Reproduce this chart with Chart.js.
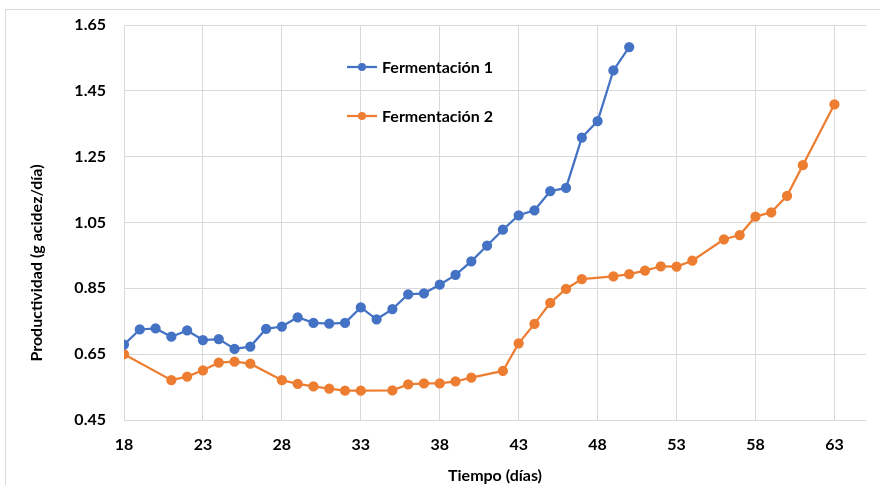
<!DOCTYPE html>
<html>
<head>
<meta charset="utf-8">
<script src="https://cdn.jsdelivr.net/npm/chart.js@4/dist/chart.umd.min.js"></script>
<style>
  html, body { margin: 0; padding: 0; background: #fff; overflow: hidden; }
  #frame { position: absolute; left: 5px; top: 9px; width: 900px; height: 500px; border: 1px solid #d9d9d9; }
  #wrap { position: absolute; left: 0; top: 0; width: 880px; height: 485px; }
</style>
</head>
<body>
<div id="frame"></div>
<div id="wrap"><canvas id="myChart" width="880" height="485"></canvas></div>
<script>
// days and productivity, fermentation 1
const days1 = [18, 19, 20, 21, 22, 23, 24, 25, 26, 27, 28, 29, 30, 31, 32, 33, 34,
  35, 36, 37, 38, 39, 40, 41, 42, 43, 44, 45, 46, 47, 48, 49, 50];
const prod1 = [0.679, 0.725, 0.728, 0.703, 0.722, 0.693, 0.696, 0.666, 0.673, 0.727,
  0.734, 0.762, 0.745, 0.743, 0.745, 0.792, 0.756, 0.787, 0.832, 0.835, 0.861, 0.891,
  0.932, 0.980, 1.028, 1.072, 1.087, 1.145, 1.155, 1.308, 1.358, 1.512, 1.583];

// days and productivity, fermentation 2
const days2 = [18, 21, 22, 23, 24, 25, 26, 28, 29, 30, 31, 32, 33, 35, 36, 37, 38, 39,
  40, 42, 43, 44, 45, 46, 47, 49, 50, 51, 52, 53, 54, 56, 57, 58, 59, 60, 61, 63];
const prod2 = [0.650, 0.571, 0.582, 0.601, 0.624, 0.627, 0.621, 0.571, 0.560, 0.552,
  0.545, 0.539, 0.539, 0.540, 0.558, 0.561, 0.561, 0.567, 0.579, 0.599, 0.683, 0.742,
  0.806, 0.848, 0.878, 0.886, 0.893, 0.904, 0.917, 0.916, 0.934, 0.999, 1.012, 1.068,
  1.081, 1.131, 1.224, 1.409];

const xTicks = [18, 23, 28, 33, 38, 43, 48, 53, 58, 63];
const yTicks = [0.45, 0.65, 0.85, 1.05, 1.25, 1.45, 1.65];

const seriesNames = ['Fermentación 1', 'Fermentación 2'];
const xTitle = 'Tiempo (días)';
const yTitle = 'Productividad (g acidez/día)';
const blue = '#4472C4';
const orange = '#ED7D31';

const FONT = 'Lato, "Open Sans", sans-serif';
const toPoints = (xs, ys) => xs.map((x, i) => ({ x: x, y: ys[i] }));

// legend sits inside the plot, Excel style; y title drawn by hand so it can sit lower
const extras = {
  id: 'extras',
  afterDraw(chart) {
    const ctx = chart.ctx;
    const area = chart.chartArea;
    const x0 = area.left + 223;
    const rows = [area.top + 42, area.top + 91];
    chart.data.datasets.forEach((ds, i) => {
      const y = rows[i];
      ctx.save();
      ctx.strokeStyle = ds.borderColor;
      ctx.lineWidth = 2.25;
      ctx.beginPath();
      ctx.moveTo(x0, y);
      ctx.lineTo(x0 + 30, y);
      ctx.stroke();
      ctx.fillStyle = ds.borderColor;
      ctx.beginPath();
      ctx.arc(x0 + 15, y, 4, 0, Math.PI * 2);
      ctx.fill();
      ctx.fillStyle = '#000';
      ctx.font = 'bold 16px ' + FONT;
      ctx.textBaseline = 'middle';
      ctx.fillText(ds.label, x0 + 35, y + 1);
      ctx.restore();
    });

    ctx.save();
    ctx.translate(37, 263);
    ctx.rotate(-Math.PI / 2);
    ctx.fillStyle = '#000';
    ctx.font = 'bold 16px ' + FONT;
    ctx.textAlign = 'center';
    ctx.textBaseline = 'middle';
    ctx.fillText(yTitle, 0, 0);
    ctx.restore();
  }
};

const ctx = document.getElementById('myChart');
const chart = new Chart(ctx, {
  type: 'line',
  data: {
    datasets: [
      {
        label: seriesNames[0],
        data: toPoints(days1, prod1),
        borderColor: blue,
        backgroundColor: blue,
        borderWidth: 2.25,
        pointRadius: 4,
        pointHoverRadius: 4,
        tension: 0
      },
      {
        label: seriesNames[1],
        data: toPoints(days2, prod2),
        borderColor: orange,
        backgroundColor: orange,
        borderWidth: 2.25,
        pointRadius: 4,
        pointHoverRadius: 4,
        tension: 0
      }
    ]
  },
  options: {
    responsive: false,
    animation: false,
    layout: { padding: { left: 0, right: 14, top: 25, bottom: 0 } },
    plugins: {
      legend: { display: false },
      tooltip: { enabled: false }
    },
    scales: {
      x: {
        type: 'linear',
        min: 18,
        max: 65,
        afterBuildTicks: (scale) => { scale.ticks = xTicks.map(v => ({ value: v })); },
        afterFit: (scale) => {
          scale.height = 65;
          scale.paddingLeft = 0;
          scale.paddingRight = 0;
        },
        grid: { color: '#d9d9d9', lineWidth: 1, drawTicks: false },
        border: { display: false },
        ticks: {
          color: '#000',
          padding: 15,
          maxRotation: 0,
          font: { family: FONT, size: 16, weight: 'bold' }
        },
        title: {
          display: true,
          text: xTitle,
          color: '#000',
          padding: { top: 2, bottom: 0 },
          font: { family: FONT, size: 16, weight: 'bold' }
        }
      },
      y: {
        type: 'linear',
        min: 0.45,
        max: 1.65,
        afterBuildTicks: (scale) => { scale.ticks = yTicks.map(v => ({ value: v })); },
        afterFit: (scale) => {
          scale.width = 124;
          scale.paddingTop = 0;
          scale.paddingBottom = 0;
        },
        grid: { color: '#d9d9d9', lineWidth: 1, drawTicks: false },
        border: { display: false },
        ticks: {
          color: '#000',
          padding: 18,
          callback: (v) => Number(v).toFixed(2),
          font: { family: FONT, size: 16, weight: 'bold' }
        }
      }
    }
  },
  plugins: [extras]
});
</script>
</body>
</html>
